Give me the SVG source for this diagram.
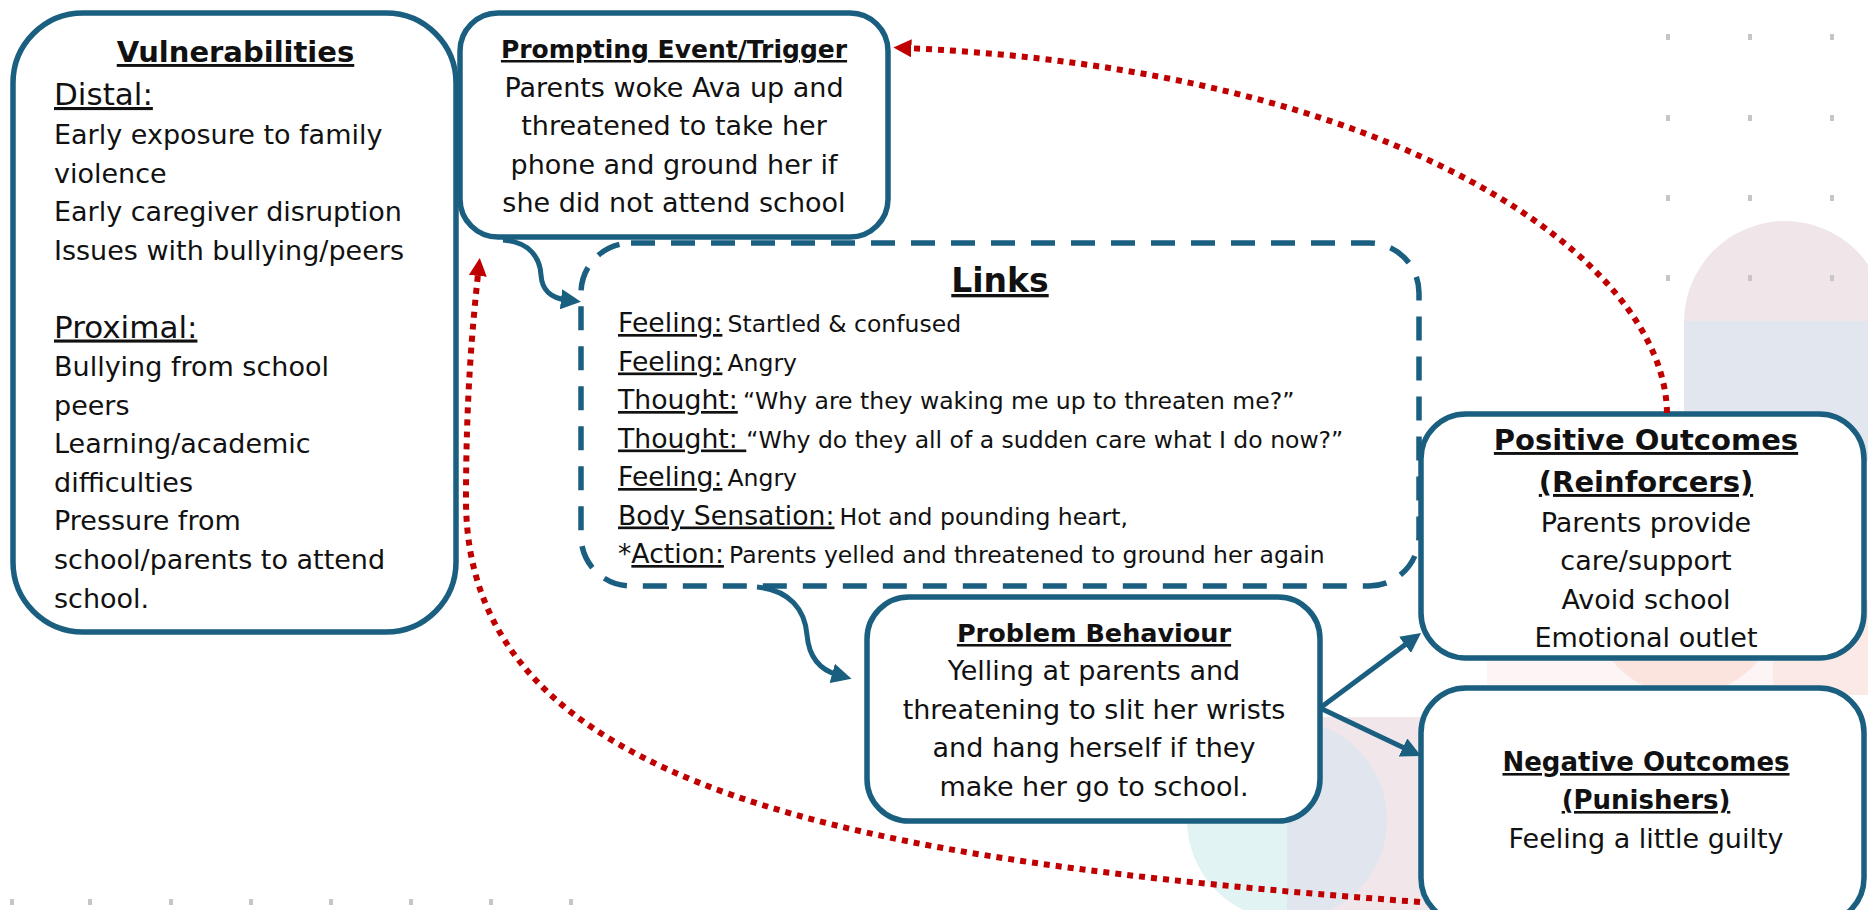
<svg xmlns="http://www.w3.org/2000/svg" width="1868" height="910" viewBox="0 0 1868 910">
<style>
.box{fill:#ffffff;stroke:#1a5e80;stroke-width:5.5}
.dash{fill:#ffffff;stroke:#1a5e80;stroke-width:5.5;stroke-dasharray:24 16}
.t{font-family:"DejaVu Sans","Liberation Sans",sans-serif;fill:#111111}
.b{font-weight:bold;text-decoration:underline}
.c{text-anchor:middle}
.u{text-decoration:underline}
.body{font-size:27px}
.blue{fill:none;stroke:#1a5e80;stroke-width:5}
.red{fill:none;stroke:#c00000;stroke-width:6;stroke-dasharray:6 6}
.dot{fill:#c6c6c6}
</style>
<defs>
<marker id="ab" viewBox="0 0 10 10" markerWidth="4" markerHeight="4" refX="3" refY="5" orient="auto" markerUnits="strokeWidth">
<path d="M0,0 L10,5 L0,10 z" fill="#1a5e80"/>
</marker>
<marker id="ar" viewBox="0 0 10 10" markerWidth="3" markerHeight="3" refX="3" refY="5" orient="auto" markerUnits="strokeWidth">
<path d="M0,0 L10,5 L0,10 z" fill="#c00000"/>
</marker>
</defs>
<rect width="1868" height="910" fill="#ffffff"/>
<g id="background">
<path d="M1684,322 A101,101 0 0 1 1886,322 Z" fill="#f0e6ea"/>
<rect x="1684" y="321" width="202" height="140" fill="#e2e6ee"/>
<rect x="1487" y="600" width="381" height="95" fill="#fdf5f5"/>
<rect x="1773" y="600" width="95" height="95" fill="#fbe9e5"/>
<circle cx="1685" cy="600" r="95" fill="#fbe4de"/>
<rect x="1287" y="717" width="200" height="200" fill="#f1e6ea"/>
<path d="M1287,720 A100,100 0 0 0 1287,920 Z" fill="#e1f3f3"/>
<path d="M1287,720 A100,100 0 0 1 1287,920 Z" fill="#e1e5ee"/>
</g>
<g id="dots">
<rect class="dot" x="1666" y="34" width="4" height="6"/><rect class="dot" x="1748" y="34" width="4" height="6"/><rect class="dot" x="1830" y="34" width="4" height="6"/>
<rect class="dot" x="1666" y="115" width="4" height="6"/><rect class="dot" x="1748" y="115" width="4" height="6"/><rect class="dot" x="1830" y="115" width="4" height="6"/>
<rect class="dot" x="1666" y="195" width="4" height="6"/><rect class="dot" x="1748" y="195" width="4" height="6"/><rect class="dot" x="1830" y="195" width="4" height="6"/>
<rect class="dot" x="1666" y="275" width="4" height="6"/><rect class="dot" x="1748" y="275" width="4" height="6"/><rect class="dot" x="1830" y="275" width="4" height="6"/>
<rect class="dot" x="10" y="899" width="4" height="6"/><rect class="dot" x="88" y="899" width="4" height="6"/><rect class="dot" x="169" y="899" width="4" height="6"/><rect class="dot" x="249" y="899" width="4" height="6"/>
<rect class="dot" x="329" y="899" width="4" height="6"/><rect class="dot" x="409" y="899" width="4" height="6"/><rect class="dot" x="489" y="899" width="4" height="6"/><rect class="dot" x="569" y="899" width="4" height="6"/>
</g>
<g id="vulnerabilities">
<rect class="box" x="13" y="13" width="443" height="619" rx="70"/>
<text class="t b c" x="235.5" y="62" font-size="29">Vulnerabilities</text>
<text class="t u" x="54" y="105" font-size="31">Distal:</text>
<text class="t body" x="54" y="144">Early exposure to family</text>
<text class="t body" x="54" y="182.5">violence</text>
<text class="t body" x="54" y="221">Early caregiver disruption</text>
<text class="t body" x="54" y="259.5">Issues with bullying/peers</text>
<text class="t u" x="54" y="337.5" font-size="31">Proximal:</text>
<text class="t body" x="54" y="376">Bullying from school</text>
<text class="t body" x="54" y="414.5">peers</text>
<text class="t body" x="54" y="453">Learning/academic</text>
<text class="t body" x="54" y="491.5">difficulties</text>
<text class="t body" x="54" y="530">Pressure from</text>
<text class="t body" x="54" y="569">school/parents to attend</text>
<text class="t body" x="54" y="608">school.</text>
</g>
<g id="prompting-event">
<rect class="box" x="460" y="13" width="428" height="224" rx="38"/>
<text class="t b c" x="674" y="58" font-size="25">Prompting Event/Trigger</text>
<text class="t body c" x="674" y="97">Parents woke Ava up and</text>
<text class="t body c" x="674" y="135.3">threatened to take her</text>
<text class="t body c" x="674" y="173.6">phone and ground her if</text>
<text class="t body c" x="674" y="212">she did not attend school</text>
</g>
<g id="links">
<rect class="dash" x="581" y="243" width="838" height="343" rx="50"/>
<text class="t b c" x="1000" y="292" font-size="33">Links</text>
<text class="t" x="618" y="332"><tspan class="u" font-size="26.7">Feeling:</tspan> <tspan font-size="23.5">Startled &amp; confused</tspan></text>
<text class="t" x="618" y="370.5"><tspan class="u" font-size="26.7">Feeling:</tspan> <tspan font-size="23.5">Angry</tspan></text>
<text class="t" x="618" y="409"><tspan class="u" font-size="26.7">Thought:</tspan> <tspan font-size="23.5">“Why are they waking me up to threaten me?”</tspan></text>
<text class="t" x="618" y="447.5"><tspan class="u" font-size="26.7">Thought: </tspan><tspan font-size="23.5">“Why do they all of a sudden care what I do now?”</tspan></text>
<text class="t" x="618" y="486"><tspan class="u" font-size="26.7">Feeling:</tspan> <tspan font-size="23.5">Angry</tspan></text>
<text class="t" x="618" y="524.5"><tspan class="u" font-size="26.7">Body Sensation:</tspan> <tspan font-size="23.5">Hot and pounding heart,</tspan></text>
<text class="t" x="618" y="563"><tspan font-size="26.7">*</tspan><tspan class="u" font-size="26.7">Action:</tspan> <tspan font-size="23.5">Parents yelled and threatened to ground her again</tspan></text>
</g>
<g id="problem-behaviour">
<rect class="box" x="867" y="597" width="453" height="224" rx="42"/>
<text class="t b c" x="1094" y="642" font-size="25.5">Problem Behaviour</text>
<text class="t body c" x="1094" y="680">Yelling at parents and</text>
<text class="t body c" x="1094" y="718.5">threatening to slit her wrists</text>
<text class="t body c" x="1094" y="757">and hang herself if they</text>
<text class="t body c" x="1094" y="795.5">make her go to school.</text>
</g>
<g id="positive-outcomes">
<rect class="box" x="1421" y="414" width="443" height="244" rx="45"/>
<text class="t b c" x="1646" y="450" font-size="29">Positive Outcomes</text>
<text class="t b c" x="1646" y="492" font-size="29">(Reinforcers)</text>
<text class="t body c" x="1646" y="532">Parents provide</text>
<text class="t body c" x="1646" y="570">care/support</text>
<text class="t body c" x="1646" y="608.5">Avoid school</text>
<text class="t body c" x="1646" y="647">Emotional outlet</text>
</g>
<g id="negative-outcomes">
<rect class="box" x="1421" y="688" width="443" height="235" rx="45"/>
<text class="t b c" x="1646" y="771" font-size="26">Negative Outcomes</text>
<text class="t b c" x="1646" y="809" font-size="26">(Punishers)</text>
<text class="t body c" x="1646" y="847.5">Feeling a little guilty</text>
</g>
<g id="connectors">
<path class="blue" d="M503,240 C530,242 540,258 541,275 C542,290 550,298 567,300" marker-end="url(#ab)"/>
<path class="blue" d="M757,587 C790,590 805,610 807,635 C809,658 820,670 838,675" marker-end="url(#ab)"/>
<path class="blue" d="M1320,708 L1409.8,641.3" marker-end="url(#ab)"/>
<path class="blue" d="M1320,708 L1408.4,750" marker-end="url(#ab)"/>
<path class="red" d="M1667,413 C1665,260 1400,70 906,48" marker-end="url(#ar)"/>
<path class="red" d="M1420,902 C850,860 466,790 466,500 C466,400 472,330 478.4,270.5" marker-end="url(#ar)"/>
</g>
</svg>
